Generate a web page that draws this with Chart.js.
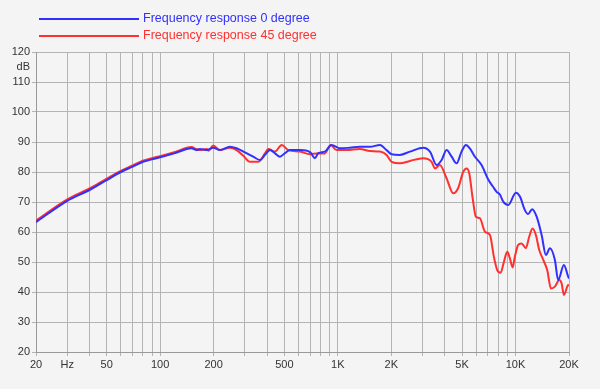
<!DOCTYPE html>
<html lang="en">
<head>
    <meta charset="UTF-8">
    <title>Frequency response</title>
    <script src="https://cdn.jsdelivr.net/npm/chart.js"></script>
    <style>
        body {
            margin: 0;
            background: #f4f4f4;
        }
        #wrap {
            width: 600px;
            height: 389px;
        }
    </style>
</head>
<body>
    <div id="wrap"><canvas id="myChart"></canvas></div>
    <script>
        // values: [Hz, dB]
        const response0 = [
            [20, 63.3], [30, 70.4], [40, 74.0], [50, 77.3], [60, 80.0], [70, 81.8],
            [80, 83.4], [90, 84.2], [100, 84.9], [120, 86.2], [150, 87.9], [160, 87.3],
            [167, 87.7], [183, 87.3], [199, 88.1], [217, 87.3], [247, 88.4], [269, 87.9],
            [294, 86.8], [334, 85.1], [365, 84.0], [389, 85.7], [415, 87.3], [443, 86.2],
            [472, 85.1], [504, 86.3], [537, 87.3], [612, 87.3], [697, 86.6], [743, 84.6],
            [776, 86.3], [845, 86.8], [922, 89.0], [1028, 87.9], [1170, 88.1], [1330, 88.4],
            [1516, 88.4], [1726, 89.0], [1880, 87.3], [2008, 85.9], [2234, 85.7], [2546, 86.8],
            [3026, 88.1], [3300, 86.8], [3600, 82.3], [3840, 84.0], [4090, 87.3], [4370, 85.1],
            [4660, 82.9], [4970, 86.8], [5260, 89.0], [5530, 87.9], [5910, 85.1], [6440, 82.3],
            [7020, 77.5], [7490, 75.0], [7830, 73.4], [8170, 72.5], [8530, 70.1], [9100, 69.0],
            [10050, 73.1], [10590, 71.8], [11290, 67.3], [11780, 66.0], [12410, 67.6], [13150, 65.1],
            [14030, 59.0], [14830, 52.3], [15620, 54.6], [16660, 50.7], [17380, 44.0], [18720, 49.0],
            [19800, 45.1], [20000, 44.5]
        ];
        const response45 = [
            [20, 63.8], [30, 70.9], [40, 74.5], [50, 77.8], [60, 80.4], [70, 82.2],
            [80, 83.8], [90, 84.6], [100, 85.3], [120, 86.6], [150, 88.3], [160, 87.6],
            [167, 87.3], [183, 87.7], [187, 87.1], [199, 88.8], [217, 87.3], [247, 88.1],
            [269, 87.3], [294, 85.4], [320, 83.4], [356, 83.4], [389, 86.2], [406, 87.7],
            [443, 86.8], [483, 89.0], [526, 87.3], [612, 86.8], [697, 85.9], [760, 86.2],
            [845, 86.2], [910, 89.0], [984, 87.3], [1120, 87.3], [1330, 87.7], [1516, 87.0],
            [1726, 86.8], [1880, 85.7], [2008, 83.4], [2234, 82.9], [2546, 83.7], [3026, 84.6],
            [3370, 83.4], [3520, 81.2], [3750, 82.3], [4090, 77.9], [4460, 72.9], [4750, 74.6],
            [5080, 80.1], [5310, 81.2], [5490, 79.6], [5740, 71.2], [5980, 65.1], [6300, 64.6],
            [6730, 60.1], [7180, 59.0], [7550, 51.8], [7890, 47.3], [8240, 46.4], [8610, 50.1],
            [8980, 53.4], [9300, 51.2], [9630, 48.2], [9920, 51.8], [10350, 55.7], [10820, 56.2],
            [11430, 54.6], [11940, 58.4], [12470, 61.2], [13020, 59.0], [13600, 54.0], [14330, 50.7],
            [15080, 47.3], [15830, 41.2], [16660, 41.8], [17620, 44.0], [18170, 42.9], [18720, 39.0],
            [19800, 42.3], [20000, 42.0]
        ];
        const seriesNames = ['Frequency response 0 degree', 'Frequency response 45 degree'];
        const seriesColors = ['#3030ff', '#ff3030'];

        // grid lines and labels on the frequency axis
        const freqTicks = [20, 30, 40, 50, 60, 70, 80, 90, 100, 200, 300, 400, 500, 600, 700, 800, 900,
            1000, 2000, 3000, 4000, 5000, 6000, 7000, 8000, 9000, 10000, 20000];
        const freqLabels = { 20: '20', 30: 'Hz', 50: '50', 100: '100', 200: '200', 500: '500',
            1000: '1K', 2000: '2K', 5000: '5K', 10000: '10K', 20000: '20K' };
        const dbMin = 20, dbMax = 120, dbStep = 10;

        const toPoints = arr => arr.map(p => ({ x: p[0], y: p[1] }));

        const legendPlugin = {
            id: 'topLegend',
            afterDraw(chart) {
                const ctx = chart.ctx;
                ctx.save();
                ctx.font = '12.5px "Liberation Sans", Arial, sans-serif';
                ctx.textBaseline = 'middle';
                seriesNames.forEach((name, i) => {
                    const y = 19 + i * 17;
                    ctx.strokeStyle = seriesColors[i];
                    ctx.lineWidth = 2;
                    ctx.beginPath();
                    ctx.moveTo(39, y);
                    ctx.lineTo(139, y);
                    ctx.stroke();
                    ctx.fillStyle = seriesColors[i];
                    ctx.fillText(name, 143, y);
                });
                // unit under the top y label
                const ys = chart.scales.y;
                ctx.fillStyle = '#333';
                ctx.font = '11px "Liberation Sans", Arial, sans-serif';
                ctx.textAlign = 'right';
                ctx.fillText('dB', 30, ys.getPixelForValue(115));
                ctx.restore();
            }
        };

        const ctx = document.getElementById('myChart').getContext('2d');
        new Chart(ctx, {
            type: 'line',
            data: {
                datasets: [
                    {
                        label: seriesNames[0],
                        data: toPoints(response0),
                        borderColor: seriesColors[0],
                        borderWidth: 2,
                        pointRadius: 0,
                        cubicInterpolationMode: 'monotone'
                    },
                    {
                        label: seriesNames[1],
                        data: toPoints(response45),
                        borderColor: seriesColors[1],
                        borderWidth: 2,
                        pointRadius: 0,
                        cubicInterpolationMode: 'monotone'
                    }
                ]
            },
            options: {
                responsive: true,
                maintainAspectRatio: false,
                animation: false,
                layout: { padding: { top: 52, right: 31, left: 0, bottom: 0 } },
                plugins: {
                    legend: { display: false },
                    tooltip: { enabled: false }
                },
                scales: {
                    x: {
                        type: 'logarithmic',
                        min: 20,
                        max: 20000,
                        afterBuildTicks: scale => {
                            scale.ticks = freqTicks.map(v => ({ value: v }));
                        },
                        afterFit: scale => { scale.height = 37; },
                        ticks: {
                            autoSkip: false,
                            maxRotation: 0,
                            padding: 2,
                            color: '#333',
                            font: { family: '"Liberation Sans", Arial, sans-serif', size: 11 },
                            callback: v => freqLabels[v] || ''
                        },
                        grid: { color: '#b4b4b4', tickLength: 4 },
                        border: { color: '#999' }
                    },
                    y: {
                        min: dbMin,
                        max: dbMax,
                        afterFit: scale => { scale.width = 36; },
                        ticks: {
                            stepSize: dbStep,
                            padding: 2,
                            color: '#333',
                            font: { family: '"Liberation Sans", Arial, sans-serif', size: 11 }
                        },
                        grid: { color: '#b4b4b4', tickLength: 4 },
                        border: { color: '#999' }
                    }
                }
            },
            plugins: [legendPlugin]
        });
    </script>
</body>
</html>
